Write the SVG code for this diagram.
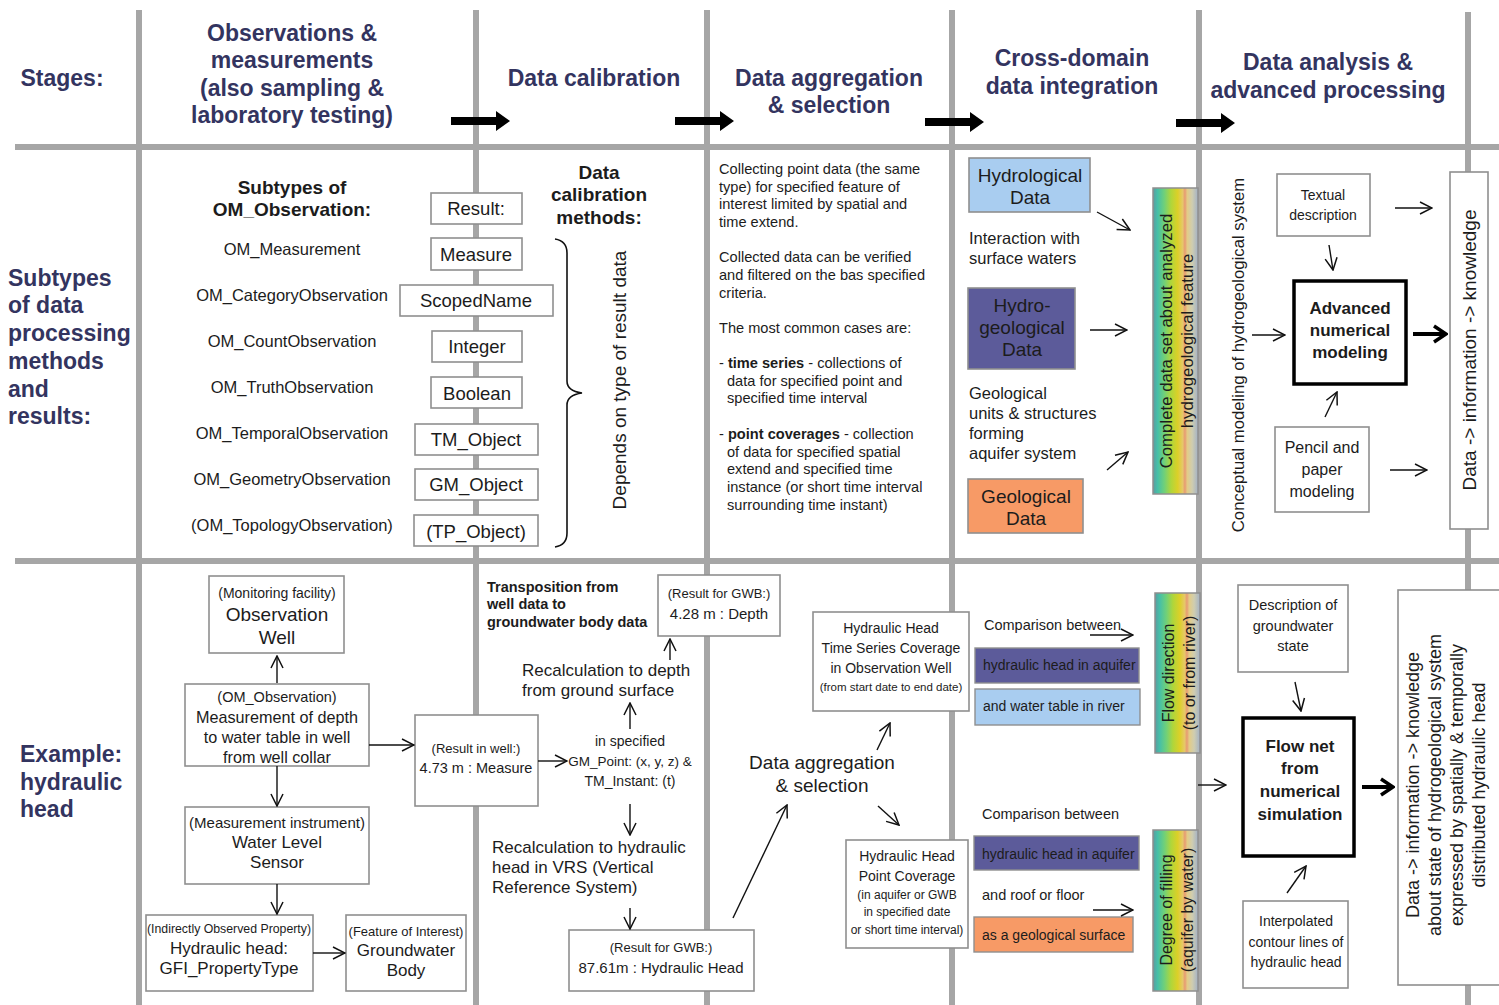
<svg xmlns="http://www.w3.org/2000/svg" width="1499" height="1005" viewBox="0 0 1499 1005">
  <style>
    text { font-family: "Liberation Sans", Arial, sans-serif; dominant-baseline: central; fill: #1c1c1c; }
    .hdr { font-size: 23px; font-weight: bold; fill: #33345f; text-anchor: middle; }
    .side { font-size: 23px; font-weight: bold; fill: #33345f; }
    .grid { stroke: #a6a6a6; stroke-width: 6; fill: none; }
    .box { fill: #ffffff; stroke: #8f8f8f; stroke-width: 1.6; }
    .thick { fill: #ffffff; stroke: #000000; stroke-width: 3.5; }
    .c { text-anchor: middle; }
    .b { font-weight: bold; }
    .conn { stroke: #111111; stroke-width: 1.4; fill: none; marker-end: url(#open); }
    .connb { stroke: #000000; stroke-width: 4; fill: none; marker-end: url(#openb); }
    .blk { fill: #000000; }
    .bar { fill: url(#spectrum); stroke: #8f8f8f; stroke-width: 1.5; }
  </style>
  <defs>
    <marker id="open" viewBox="0 0 14 14" refX="13" refY="7" markerWidth="14" markerHeight="14" markerUnits="userSpaceOnUse" orient="auto">
      <path d="M1,1 L13,7 L1,13" fill="none" stroke="#111111" stroke-width="1.5"/>
    </marker>
    <marker id="openb" viewBox="0 0 16 20" refX="14" refY="10" markerWidth="16" markerHeight="20" markerUnits="userSpaceOnUse" orient="auto">
      <path d="M2,2 L14,10 L2,18" fill="none" stroke="#000000" stroke-width="3.5"/>
    </marker>
    <linearGradient id="spectrum" x1="0" y1="0" x2="1" y2="0">
      <stop offset="0" stop-color="#5d9aa0"/>
      <stop offset="0.1" stop-color="#45bfa8"/>
      <stop offset="0.25" stop-color="#6fd07a"/>
      <stop offset="0.4" stop-color="#b0d63a"/>
      <stop offset="0.55" stop-color="#dcd028"/>
      <stop offset="0.66" stop-color="#e6c86a"/>
      <stop offset="0.71" stop-color="#e79a72"/>
      <stop offset="0.76" stop-color="#e3cc86"/>
      <stop offset="0.87" stop-color="#cfcdb0"/>
      <stop offset="1" stop-color="#a4b2c6"/>
    </linearGradient>
  </defs>

  <!-- table grid -->
  <g id="grid">
    <line class="grid" x1="139" y1="10" x2="139" y2="1005"/>
    <line class="grid" x1="476" y1="10" x2="476" y2="1005"/>
    <line class="grid" x1="707" y1="10" x2="707" y2="1005"/>
    <line class="grid" x1="952" y1="10" x2="952" y2="1005"/>
    <line class="grid" x1="1199" y1="10" x2="1199" y2="1005"/>
    <line class="grid" x1="1468" y1="12" x2="1468" y2="1005"/>
    <line class="grid" x1="15" y1="147" x2="1499" y2="147"/>
    <line class="grid" x1="15" y1="561" x2="1499" y2="561"/>
  </g>

  <!-- stage headers -->
  <g id="headers">
    <text class="hdr" x="62" y="78">Stages:</text>
    <text class="hdr" x="292" y="33">Observations &amp;</text>
    <text class="hdr" x="292" y="60">measurements</text>
    <text class="hdr" x="292" y="88">(also sampling &amp;</text>
    <text class="hdr" x="292" y="115">laboratory testing)</text>
    <text class="hdr" x="594" y="78">Data calibration</text>
    <text class="hdr" x="829" y="78">Data aggregation</text>
    <text class="hdr" x="829" y="105">&amp; selection</text>
    <text class="hdr" x="1072" y="58">Cross-domain</text>
    <text class="hdr" x="1072" y="86">data integration</text>
    <text class="hdr" x="1328" y="62">Data analysis &amp;</text>
    <text class="hdr" x="1328" y="90">advanced processing</text>
  </g>

  <!-- stage flow arrows -->
  <g id="stage-arrows">
    <polygon class="blk" points="451,117 496,117 496,111 510,121 496,131 496,125 451,125"/>
    <polygon class="blk" points="675,117 720,117 720,111 734,121 720,131 720,125 675,125"/>
    <polygon class="blk" points="925,118 970,118 970,112 984,122 970,132 970,126 925,126"/>
    <polygon class="blk" points="1176,119 1221,119 1221,113 1235,123 1221,133 1221,127 1176,127"/>
  </g>

  <!-- row labels -->
  <g id="row-labels">
    <text class="side" x="8" y="278">Subtypes</text>
    <text class="side" x="8" y="305">of data</text>
    <text class="side" x="8" y="333">processing</text>
    <text class="side" x="8" y="361">methods</text>
    <text class="side" x="8" y="389">and</text>
    <text class="side" x="8" y="416">results:</text>
    <text class="side" x="20" y="754">Example:</text>
    <text class="side" x="20" y="782">hydraulic</text>
    <text class="side" x="20" y="809">head</text>
  </g>

  <!-- observation subtypes -->
  <g id="om-subtypes">
    <text class="c b" x="292" y="187" font-size="19">Subtypes of</text>
    <text class="c b" x="292" y="209" font-size="19">OM_Observation:</text>
    <g font-size="16.5">
      <text class="c" x="292" y="249">OM_Measurement</text>
      <text class="c" x="292" y="295">OM_CategoryObservation</text>
      <text class="c" x="292" y="341">OM_CountObservation</text>
      <text class="c" x="292" y="387">OM_TruthObservation</text>
      <text class="c" x="292" y="433">OM_TemporalObservation</text>
      <text class="c" x="292" y="479">OM_GeometryObservation</text>
      <text class="c" x="292" y="525">(OM_TopologyObservation)</text>
    </g>
  </g>

  <g id="result-types" font-size="18.5">
    <g id="res-result"><rect class="box" x="431" y="193" width="91" height="31"/><text class="c" x="476" y="208">Result:</text></g>
    <g id="res-measure"><rect class="box" x="431" y="238" width="91" height="32"/><text class="c" x="476" y="254">Measure</text></g>
    <g id="res-scoped"><rect class="box" x="400" y="285" width="153" height="31"/><text class="c" x="476" y="300">ScopedName</text></g>
    <g id="res-integer"><rect class="box" x="432" y="331" width="90" height="31"/><text class="c" x="477" y="346">Integer</text></g>
    <g id="res-boolean"><rect class="box" x="431" y="377" width="91" height="31"/><text class="c" x="477" y="393">Boolean</text></g>
    <g id="res-tm"><rect class="box" x="415" y="424" width="123" height="31"/><text class="c" x="476" y="439">TM_Object</text></g>
    <g id="res-gm"><rect class="box" x="415" y="469" width="123" height="31"/><text class="c" x="476" y="484">GM_Object</text></g>
    <g id="res-tp"><rect class="box" x="414" y="515" width="124" height="31"/><text class="c" x="476" y="531">(TP_Object)</text></g>
  </g>

  <!-- calibration methods -->
  <g id="calibration">
    <path d="M555,239 Q567,241 567,253 L567,381 Q567,391 582,393 Q567,395 567,405 L567,533 Q567,545 555,547" fill="none" stroke="#111" stroke-width="1.6"/>
    <text class="c b" x="599" y="172" font-size="19">Data</text>
    <text class="c b" x="599" y="194" font-size="19">calibration</text>
    <text class="c b" x="599" y="217" font-size="19">methods:</text>
    <text class="c" x="619" y="380" font-size="19" transform="rotate(-90 619 380)">Depends on type of result data</text>
  </g>

  <!-- aggregation description -->
  <g id="aggregation-text" font-size="14.6" fill="#222">
    <text x="719" y="169">Collecting point data (the same</text>
    <text x="719" y="187">type) for specified feature of</text>
    <text x="719" y="204">interest limited by spatial and</text>
    <text x="719" y="222">time extend.</text>
    <text x="719" y="257">Collected data can be verified</text>
    <text x="719" y="275">and filtered on the bas specified</text>
    <text x="719" y="293">criteria.</text>
    <text x="719" y="328">The most common cases are:</text>
    <text x="719" y="363">- <tspan font-weight="bold">time series</tspan> - collections of</text>
    <text x="727" y="381">data for specified point and</text>
    <text x="727" y="398">specified time interval</text>
    <text x="719" y="434">- <tspan font-weight="bold">point coverages</tspan> - collection</text>
    <text x="727" y="452">of data for  specified spatial</text>
    <text x="727" y="469">extend and specified time</text>
    <text x="727" y="487">instance (or short time interval</text>
    <text x="727" y="505">surrounding time instant)</text>
  </g>

  <!-- cross-domain integration -->
  <g id="hydrological-data">
    <rect x="969" y="158" width="121" height="54" fill="#a9cdf0" stroke="#8f8f8f" stroke-width="1.6"/>
    <text class="c" x="1030" y="175" font-size="19">Hydrological</text>
    <text class="c" x="1030" y="197" font-size="19">Data</text>
  </g>
  <text x="969" y="238" font-size="16.5">Interaction with</text>
  <text x="969" y="258" font-size="16.5">surface waters</text>
  <g id="hydrogeological-data">
    <rect x="968" y="288" width="107" height="81" fill="#5c5b9a" stroke="#8f8f8f" stroke-width="1.6"/>
    <text class="c" x="1022" y="305" font-size="19">Hydro-</text>
    <text class="c" x="1022" y="327" font-size="19">geological</text>
    <text class="c" x="1022" y="349" font-size="19">Data</text>
  </g>
  <text x="969" y="393" font-size="16.5">Geological</text>
  <text x="969" y="413" font-size="16.5">units &amp; structures</text>
  <text x="969" y="433" font-size="16.5">forming</text>
  <text x="969" y="453" font-size="16.5">aquifer system</text>
  <g id="geological-data">
    <rect x="968" y="479" width="115" height="54" fill="#f79a66" stroke="#8f8f8f" stroke-width="1.6"/>
    <text class="c" x="1026" y="496" font-size="19">Geological</text>
    <text class="c" x="1026" y="518" font-size="19">Data</text>
  </g>
  <g id="complete-data-set">
    <rect class="bar" x="1153" y="188" width="45" height="306"/>
    <text class="c" x="1166" y="341" font-size="16.8" transform="rotate(-90 1166 341)">Complete data set about analyzed</text>
    <text class="c" x="1187" y="341" font-size="16.8" transform="rotate(-90 1187 341)">hydrogeological feature</text>
  </g>

  <!-- advanced processing -->
  <text class="c" x="1238" y="355" font-size="16.7" transform="rotate(-90 1238 355)">Conceptual modeling of hydrogeological system</text>
  <g id="textual-description">
    <rect class="box" x="1277" y="174" width="93" height="62"/>
    <text class="c" x="1323" y="195" font-size="14">Textual</text>
    <text class="c" x="1323" y="215" font-size="14">description</text>
  </g>
  <g id="advanced-modeling">
    <rect class="thick" x="1294" y="281" width="112" height="103"/>
    <text class="c b" x="1350" y="308" font-size="17">Advanced</text>
    <text class="c b" x="1350" y="330" font-size="17">numerical</text>
    <text class="c b" x="1350" y="352" font-size="17">modeling</text>
  </g>
  <g id="pencil-modeling">
    <rect class="box" x="1275" y="427" width="94" height="85"/>
    <text class="c" x="1322" y="447" font-size="16">Pencil and</text>
    <text class="c" x="1322" y="469" font-size="16">paper</text>
    <text class="c" x="1322" y="491" font-size="16">modeling</text>
  </g>
  <g id="knowledge-top">
    <rect class="box" x="1450" y="172" width="38" height="357"/>
    <text class="c" x="1469" y="350" font-size="19" transform="rotate(-90 1469 350)">Data -&gt; information -&gt; knowledge</text>
  </g>

  <!-- example: observation chain -->
  <g id="observation-well">
    <rect class="box" x="209" y="576" width="135" height="77"/>
    <text class="c" x="277" y="593" font-size="14">(Monitoring facility)</text>
    <text class="c" x="277" y="614" font-size="19">Observation</text>
    <text class="c" x="277" y="637" font-size="19">Well</text>
  </g>
  <g id="om-observation">
    <rect class="box" x="185" y="684" width="184" height="82"/>
    <text class="c" x="277" y="697" font-size="14.5">(OM_Observation)</text>
    <text class="c" x="277" y="717" font-size="16.2">Measurement of depth</text>
    <text class="c" x="277" y="737" font-size="16.2">to water table in well</text>
    <text class="c" x="277" y="757" font-size="16.2">from well collar</text>
  </g>
  <g id="result-in-well">
    <rect class="box" x="415" y="715" width="123" height="91"/>
    <text class="c" x="476" y="748" font-size="13">(Result in well:)</text>
    <text class="c" x="476" y="768" font-size="14.5">4.73 m : Measure</text>
  </g>
  <g id="sensor">
    <rect class="box" x="185" y="807" width="184" height="77"/>
    <text class="c" x="277" y="822" font-size="15">(Measurement instrument)</text>
    <text class="c" x="277" y="842" font-size="17">Water Level</text>
    <text class="c" x="277" y="862" font-size="17">Sensor</text>
  </g>
  <g id="observed-property">
    <rect class="box" x="146" y="915" width="167" height="76"/>
    <text class="c" x="229" y="929" font-size="12.3">(Indirectly Observed Property)</text>
    <text class="c" x="229" y="948" font-size="17">Hydraulic head:</text>
    <text class="c" x="229" y="968" font-size="17">GFI_PropertyType</text>
  </g>
  <g id="feature-of-interest">
    <rect class="box" x="346" y="915" width="120" height="76"/>
    <text class="c" x="406" y="931" font-size="13">(Feature of Interest)</text>
    <text class="c" x="406" y="950" font-size="17">Groundwater</text>
    <text class="c" x="406" y="970" font-size="17">Body</text>
  </g>

  <!-- example: calibration -->
  <g id="transposition">
    <text class="b" x="487" y="587" font-size="14.5">Transposition from</text>
    <text class="b" x="487" y="604" font-size="14.5">well data to</text>
    <text class="b" x="487" y="622" font-size="14.5">groundwater body data</text>
  </g>
  <g id="result-depth">
    <rect class="box" x="658" y="575" width="122" height="61"/>
    <text class="c" x="719" y="593" font-size="13">(Result for GWB:)</text>
    <text class="c" x="719" y="613" font-size="15">4.28 m : Depth</text>
  </g>
  <text x="522" y="670" font-size="17">Recalculation to depth</text>
  <text x="522" y="690" font-size="17">from ground surface</text>
  <text class="c" x="630" y="741" font-size="14">in  specified</text>
  <text class="c" x="630" y="761" font-size="13.5">GM_Point: (x, y, z) &amp;</text>
  <text class="c" x="630" y="781" font-size="14">TM_Instant: (t)</text>
  <text x="492" y="847" font-size="17">Recalculation to hydraulic</text>
  <text x="492" y="867" font-size="17">head in VRS (Vertical</text>
  <text x="492" y="887" font-size="17">Reference System)</text>
  <g id="result-head">
    <rect class="box" x="569" y="930" width="185" height="61"/>
    <text class="c" x="661" y="947" font-size="13">(Result for GWB:)</text>
    <text class="c" x="661" y="967" font-size="15">87.61m : Hydraulic Head</text>
  </g>

  <!-- example: aggregation -->
  <text class="c" x="822" y="762" font-size="19">Data aggregation</text>
  <text class="c" x="822" y="785" font-size="19">&amp; selection</text>
  <g id="time-series">
    <rect class="box" x="813" y="612" width="156" height="99"/>
    <text class="c" x="891" y="628" font-size="14">Hydraulic Head</text>
    <text class="c" x="891" y="648" font-size="14">Time Series Coverage</text>
    <text class="c" x="891" y="668" font-size="14">in Observation Well</text>
    <text class="c" x="891" y="687" font-size="11.5">(from start date to end date)</text>
  </g>
  <g id="point-coverage">
    <rect class="box" x="846" y="840" width="122" height="108"/>
    <text class="c" x="907" y="856" font-size="14">Hydraulic Head</text>
    <text class="c" x="907" y="876" font-size="14">Point Coverage</text>
    <text class="c" x="907" y="895" font-size="12">(in aquifer or GWB</text>
    <text class="c" x="907" y="912" font-size="12">in specified date</text>
    <text class="c" x="907" y="930" font-size="12">or short time interval)</text>
  </g>

  <!-- example: cross-domain -->
  <text x="984" y="625" font-size="14.5">Comparison between</text>
  <g id="head-aquifer-1">
    <rect x="975" y="648" width="164" height="35" fill="#5c5b9a" stroke="#8f8f8f" stroke-width="1.4"/>
    <text x="983" y="665" font-size="14">hydraulic head in aquifer</text>
  </g>
  <g id="water-table-river">
    <rect x="975" y="689" width="165" height="36" fill="#a9cdf0" stroke="#8f8f8f" stroke-width="1.4"/>
    <text x="983" y="706" font-size="14">and water table in river</text>
  </g>
  <g id="flow-direction">
    <rect class="bar" x="1155" y="593" width="45" height="160"/>
    <text class="c" x="1168" y="673" font-size="16" transform="rotate(-90 1168 673)">Flow direction</text>
    <text class="c" x="1189" y="673" font-size="16" transform="rotate(-90 1189 673)">(to or from river)</text>
  </g>
  <text x="982" y="814" font-size="14.5">Comparison between</text>
  <g id="head-aquifer-2">
    <rect x="974" y="836" width="165" height="34" fill="#5c5b9a" stroke="#8f8f8f" stroke-width="1.4"/>
    <text x="982" y="854" font-size="14">hydraulic head in aquifer</text>
  </g>
  <text x="982" y="895" font-size="14.5">and roof or floor</text>
  <g id="geological-surface">
    <rect x="974" y="917" width="159" height="35" fill="#f79a66" stroke="#8f8f8f" stroke-width="1.4"/>
    <text x="982" y="935" font-size="14">as a geological surface</text>
  </g>
  <g id="degree-of-filling">
    <rect class="bar" x="1153" y="830" width="45" height="161"/>
    <text class="c" x="1166" y="910" font-size="16" transform="rotate(-90 1166 910)">Degree of filling</text>
    <text class="c" x="1187" y="910" font-size="16" transform="rotate(-90 1187 910)">(aquifer by water)</text>
  </g>

  <!-- example: analysis -->
  <g id="groundwater-state">
    <rect class="box" x="1238" y="585" width="110" height="87"/>
    <text class="c" x="1293" y="605" font-size="14.5">Description of</text>
    <text class="c" x="1293" y="626" font-size="14.5">groundwater</text>
    <text class="c" x="1293" y="646" font-size="14.5">state</text>
  </g>
  <g id="flow-net">
    <rect class="thick" x="1243" y="718" width="111" height="138"/>
    <text class="c b" x="1300" y="746" font-size="17">Flow net</text>
    <text class="c b" x="1300" y="768" font-size="17">from</text>
    <text class="c b" x="1300" y="791" font-size="17">numerical</text>
    <text class="c b" x="1300" y="814" font-size="17">simulation</text>
  </g>
  <g id="contour-lines">
    <rect class="box" x="1243" y="901" width="105" height="87"/>
    <text class="c" x="1296" y="921" font-size="14">Interpolated</text>
    <text class="c" x="1296" y="942" font-size="14">contour lines of</text>
    <text class="c" x="1296" y="962" font-size="14">hydraulic head</text>
  </g>
  <g id="knowledge-bottom">
    <rect class="box" x="1398" y="590" width="103" height="395"/>
    <text class="c" x="1413" y="785" font-size="18" transform="rotate(-90 1413 785)">Data -&gt; information -&gt; knowledge</text>
    <text class="c" x="1435" y="785" font-size="18" transform="rotate(-90 1435 785)">about state of hydrogeological system</text>
    <text class="c" x="1457" y="785" font-size="18" transform="rotate(-90 1457 785)">expressed by spatially &amp; temporally</text>
    <text class="c" x="1479" y="785" font-size="18" transform="rotate(-90 1479 785)">distributed hydraulic head</text>
  </g>

  <!-- connectors -->
  <g id="connectors">
    <line class="conn" x1="1097" y1="212" x2="1130" y2="230"/>
    <line class="conn" x1="1090" y1="330" x2="1127" y2="330"/>
    <line class="conn" x1="1107" y1="470" x2="1128" y2="452"/>
    <line class="conn" x1="1395" y1="208" x2="1432" y2="208"/>
    <line class="conn" x1="1329" y1="245" x2="1333" y2="270"/>
    <line class="conn" x1="1252" y1="335" x2="1285" y2="335"/>
    <line class="connb" x1="1413" y1="334" x2="1446" y2="334"/>
    <line class="conn" x1="1325" y1="417" x2="1337" y2="392"/>
    <line class="conn" x1="1390" y1="470" x2="1427" y2="470"/>

    <line class="conn" x1="277" y1="683" x2="277" y2="656"/>
    <line class="conn" x1="369" y1="745" x2="414" y2="745"/>
    <line class="conn" x1="277" y1="766" x2="277" y2="806"/>
    <line class="conn" x1="277" y1="884" x2="277" y2="914"/>
    <line class="conn" x1="313" y1="953" x2="345" y2="953"/>
    <line class="conn" x1="538" y1="761" x2="567" y2="761"/>
    <line class="conn" x1="670" y1="660" x2="670" y2="639"/>
    <line class="conn" x1="630" y1="729" x2="630" y2="703"/>
    <line class="conn" x1="630" y1="804" x2="630" y2="835"/>
    <line class="conn" x1="630" y1="908" x2="630" y2="929"/>
    <line class="conn" x1="733" y1="918" x2="787" y2="805"/>
    <line class="conn" x1="877" y1="750" x2="890" y2="723"/>
    <line class="conn" x1="878" y1="806" x2="899" y2="825"/>
    <line class="conn" x1="1090" y1="635" x2="1133" y2="635"/>
    <line class="conn" x1="1093" y1="910" x2="1133" y2="910"/>
    <line class="conn" x1="1198" y1="785" x2="1226" y2="785"/>
    <line class="conn" x1="1295" y1="682" x2="1301" y2="711"/>
    <line class="conn" x1="1287" y1="893" x2="1306" y2="866"/>
    <line class="connb" x1="1362" y1="787" x2="1393" y2="787"/>
  </g>
</svg>
